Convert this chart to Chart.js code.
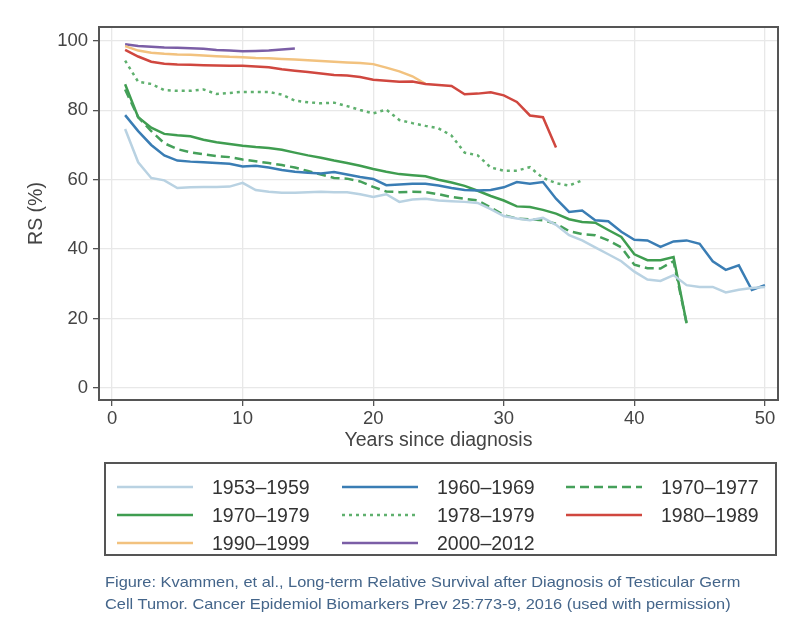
<!DOCTYPE html>
<html>
<head>
<meta charset="utf-8">
<script src="https://cdn.jsdelivr.net/npm/chart.js@4"></script>
<style>
  body { margin: 0; background: #fff; font-family: "Liberation Sans", Arial, sans-serif; }
  #wrap { position: relative; width: 804px; height: 625px; }
  #chart { position: absolute; left: 0; top: 0; }
  #legend { position: absolute; left: 104px; top: 462px; width: 669px; height: 90px; border: 2px solid #555; }
  .item { position: absolute; height: 20px; display: flex; align-items: center; }
  .item span { font-size: 19.5px; color: #333; margin-left: 19px; white-space: nowrap; }
  #caption { position: absolute; left: 105px; top: 571px; font-size: 14.5px; line-height: 22px; color: #44658a;
    white-space: nowrap; transform: scaleX(1.13); transform-origin: left top; }
</style>
</head>
<body>
<div id="wrap">
  <canvas id="chart" width="804" height="625"></canvas>
  <div id="legend"></div>
  <div id="caption">Figure: Kvammen, et al., Long-term Relative Survival after Diagnosis of Testicular Germ<br>Cell Tumor. Cancer Epidemiol Biomarkers Prev 25:773-9, 2016 (used with permission)</div>
</div>
<script>
// years since diagnosis
const years = [1, 2, 3, 4, 5, 6, 7, 8, 9, 10, 11, 12, 13, 14, 15, 16, 17, 18, 19, 20,
  21, 22, 23, 24, 25, 26, 27, 28, 29, 30, 31, 32, 33, 34, 35, 36, 37, 38, 39, 40,
  41, 42, 43, 44, 45, 46, 47, 48, 49, 50];

// relative survival (%) per period
const rs1953 = [74.6, 65, 60.5, 59.8, 57.6, 57.8, 57.9, 57.9, 58, 59.1, 57, 56.5, 56.2, 56.2, 56.4, 56.5, 56.4, 56.4, 55.8, 55,
  55.8, 53.6, 54.3, 54.5, 54, 53.8, 53.6, 53.3, 51.5, 49.5, 48.8, 48.3, 49, 47, 44, 42.5, 40.5, 38.5, 36.5, 33.5,
  31.2, 30.8, 32.5, 29.6, 29.1, 29.1, 27.5, 28.3, 28.8, 29.1];
const rs1960 = [78.6, 74, 70, 67, 65.5, 65.2, 65, 64.8, 64.6, 63.8, 64, 63.5, 62.8, 62.3, 62, 61.8, 62.2, 61.5, 60.8, 60.2,
  58.4, 58.6, 58.8, 58.8, 58.3, 57.6, 57, 56.9, 57, 57.8, 59.3, 58.8, 59.3, 54.5, 50.7, 51.1, 48.3, 48, 45, 42.7,
  42.5, 40.6, 42.2, 42.5, 41.5, 36.5, 34, 35.3, 28.2, 29.6];
const rs1970_77 = [86, 78, 74, 70.5, 68.8, 67.9, 67.3, 66.8, 66.5, 65.8, 65.3, 64.8, 64.2, 63.5, 62.5, 61.5, 60.5, 60.3, 59.5, 57.9,
  56.6, 56.4, 56.5, 56.4, 55.8, 55, 54.5, 54, 52, 49.8, 48.8, 48.6, 48.3, 47.3, 45.2, 44.3, 44, 42.5, 40.5, 35.5,
  34.5, 34.4, 36.5, 18.6];
const rs1970_79 = [87.5, 78, 75, 73.2, 72.8, 72.5, 71.5, 70.8, 70.3, 69.8, 69.4, 69.1, 68.6, 67.8, 67, 66.3, 65.5, 64.8, 64, 63.1,
  62.3, 61.6, 61.3, 61, 60, 59.2, 58.2, 56.8, 55.3, 54, 52.3, 52.1, 51.3, 50.2, 48.6, 47.8, 47.6, 45.5, 43.5, 38.5,
  36.8, 36.8, 37.7, 18.6];
const rs1978 = [94.3, 88.2, 87.6, 85.8, 85.6, 85.6, 86, 84.7, 85, 85.3, 85.3, 85.3, 84.5, 82.8, 82.3, 82, 82.2, 81.2, 80.1, 79.1,
  80.2, 77.2, 76.3, 75.5, 74.8, 72.7, 67.8, 67, 63.5, 62.6, 62.6, 63.6, 60.5, 59, 58.3, 59.8];
const rs1980 = [97.4, 95.5, 94, 93.4, 93.2, 93.1, 93, 92.9, 92.8, 92.8, 92.6, 92.4, 91.8, 91.4, 91, 90.6, 90.2, 90, 89.6, 88.8,
  88.5, 88.2, 88.3, 87.6, 87.3, 87, 84.6, 84.8, 85.2, 84.3, 82.4, 78.5, 78, 69.3];
const rs1990 = [98.5, 97.2, 96.6, 96.3, 96.1, 96, 95.8, 95.6, 95.4, 95.3, 95.1, 95, 94.8, 94.6, 94.4, 94.2, 94, 93.8, 93.6, 93.3,
  92.3, 91.2, 89.8, 87.6];
const rs2000 = [99, 98.5, 98.3, 98.1, 98, 97.9, 97.7, 97.4, 97.2, 97, 97.1, 97.2, 97.5, 97.8];

const seriesLabels = ['1953–1959', '1960–1969', '1970–1977', '1970–1979', '1978–1979', '1980–1989', '1990–1999', '2000–2012'];
const seriesValues = [rs1953, rs1960, rs1970_77, rs1970_79, rs1978, rs1980, rs1990, rs2000];

const xTicks = [0, 10, 20, 30, 40, 50];
const yTicks = [0, 20, 40, 60, 80, 100];

// line styles, same order as the labels
const seriesStyles = [
  { color: '#b9d2e2', dash: [] },
  { color: '#3a7db4', dash: [] },
  { color: '#45a05a', dash: [9, 5] },
  { color: '#3f9d50', dash: [] },
  { color: '#5fb06e', dash: [3, 4] },
  { color: '#d0473f', dash: [] },
  { color: '#f2c27f', dash: [] },
  { color: '#7b5ea6', dash: [] }
];

const framePlugin = {
  id: 'frame',
  afterDraw(chart) {
    const { ctx, chartArea: a } = chart;
    ctx.save();
    ctx.strokeStyle = '#555';
    ctx.lineWidth = 2;
    ctx.strokeRect(a.left, a.top, a.right - a.left, a.bottom - a.top);
    ctx.restore();
  }
};

Chart.defaults.font.family = '"Liberation Sans", Arial, sans-serif';

const datasets = seriesLabels.map((label, i) => ({
  label: label,
  data: seriesValues[i].map((v, j) => ({ x: years[j], y: v })),
  borderColor: seriesStyles[i].color,
  borderDash: seriesStyles[i].dash,
  borderWidth: 2.5,
  pointRadius: 0,
  tension: 0,
  fill: false
}));

new Chart(document.getElementById('chart'), {
  type: 'line',
  data: { datasets },
  options: {
    responsive: false,
    animation: false,
    layout: { padding: { left: 0, top: 27, right: 26, bottom: 170 } },
    plugins: { legend: { display: false }, tooltip: { enabled: false } },
    scales: {
      x: {
        type: 'linear',
        min: -1,
        max: 51,
        afterBuildTicks: s => { s.ticks = xTicks.map(v => ({ value: v })); },
        afterFit: s => { s.height = 55; },
        grid: { color: '#e8e8e8', lineWidth: 1.3, tickColor: '#555', tickLength: 6 },
        border: { display: false },
        ticks: { color: '#444', font: { size: 18.5 }, padding: 2, maxRotation: 0 },
        title: { display: true, text: 'Years since diagnosis', color: '#444', font: { size: 19.5 }, padding: { top: 0, bottom: 3 } }
      },
      y: {
        min: -3.5,
        max: 104,
        afterBuildTicks: s => { s.ticks = yTicks.map(v => ({ value: v })); },
        afterFit: s => { s.width = 99; },
        grid: { color: '#e8e8e8', lineWidth: 1.3, tickColor: '#555', tickLength: 6 },
        border: { display: false },
        ticks: { color: '#444', font: { size: 18.5 }, padding: 5 },
        title: { display: true, text: 'RS (%)', color: '#444', font: { size: 19.5 }, padding: { top: 25, bottom: 0 } }
      }
    }
  },
  plugins: [framePlugin]
});

// legend: 3 columns, 3 rows
const legend = document.getElementById('legend');
const colLeft = [11, 236, 460];
const rowTop = [13, 41, 69];
seriesLabels.forEach((label, i) => {
  const st = seriesStyles[i];
  const item = document.createElement('div');
  item.className = 'item';
  item.style.left = colLeft[i % 3] + 'px';
  item.style.top = rowTop[Math.floor(i / 3)] + 'px';
  item.innerHTML = '<svg width="76" height="6"><line x1="0" y1="3" x2="76" y2="3" stroke="' + st.color +
    '" stroke-width="2.5" stroke-dasharray="' + (st.dash.length ? st.dash.join(',') : 'none') + '"/></svg>' +
    '<span>' + label + '</span>';
  legend.appendChild(item);
});
</script>
</body>
</html>
